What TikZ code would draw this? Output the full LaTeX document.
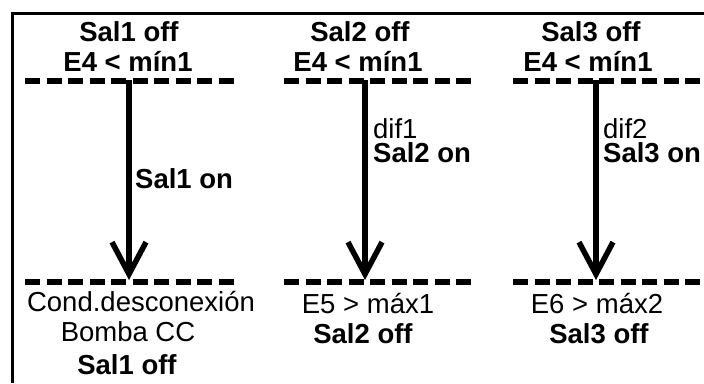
\documentclass[tikz,border=0pt]{standalone}
\usepackage{fontspec}
\setmainfont{Liberation Sans}
\usetikzlibrary{arrows.meta}

\begin{document}
\begin{tikzpicture}[x=1pt,y=-1pt,>={Straight Barb[length=32pt,width=34pt]},
    cut/.style={line width=6.5pt,dash pattern=on 15pt off 6.5pt},
    flow/.style={->,line width=5.5pt},
    txt/.style={anchor=base,inner sep=0pt,font=\fontsize{27.5}{24}\selectfont},
    btxt/.style={txt,font=\fontsize{27.5}{24}\selectfont\bfseries}]
    \useasboundingbox (0,0) rectangle (704,383);
    \draw[line width=3pt] (12.5,383) -- (12.5,13.5) -- (704,13.5);

    \node[btxt] (off1) at (129,41) {Sal1 off};
    \node[btxt] (min1) at (128,71) {E4 < mín1};
    \node[btxt] (off2) at (360,41) {Sal2 off};
    \node[btxt] (min2) at (358,71) {E4 < mín1};
    \node[btxt] (off3) at (591,41) {Sal3 off};
    \node[btxt] (min3) at (588,71) {E4 < mín1};

    \draw[cut] (25,81) -- (235,81);
    \draw[cut] (284,81) -- (474,81);
    \draw[cut] (513,81) -- (703,81);
    \draw[cut] (25,282) -- (235,282);
    \draw[cut] (284,282) -- (474,282);
    \draw[cut] (513,282) -- (703,282);

    \coordinate (a1) at (129,80);
    \coordinate (b1) at (129,280);
    \coordinate (a2) at (365,80);
    \coordinate (b2) at (365,280);
    \coordinate (a3) at (596,80);
    \coordinate (b3) at (596,280);
    \draw[flow] (a1) -- (b1);
    \draw[flow] (a2) -- (b2);
    \draw[flow] (a3) -- (b3);

    \node[btxt,anchor=base west] (on1) at (135,188) {Sal1 on};
    \node[txt,anchor=base west,align=left] (on2) at (373,162) {dif1\\\textbf{Sal2 on}};
    \node[txt,anchor=base west,align=left] (on3) at (603,162) {dif2\\\textbf{Sal3 on}};

    \node[txt] (cond) at (141,311) {Cond.desconexión};
    \node[txt] (pump) at (128,341) {Bomba CC};
    \node[btxt] (end1) at (127,374) {Sal1 off};
    \node[txt] (max1) at (368,313) {E5 > máx1};
    \node[btxt] (end2) at (363,343) {Sal2 off};
    \node[txt] (max2) at (597,313) {E6 > máx2};
    \node[btxt] (end3) at (599,343) {Sal3 off};
\end{tikzpicture}
\end{document}
